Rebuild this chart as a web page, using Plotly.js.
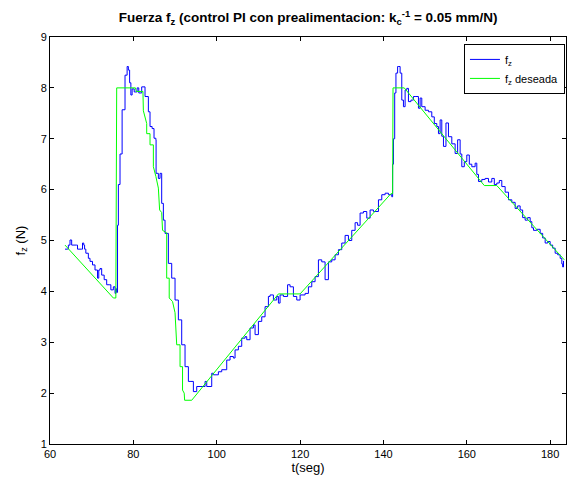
<!DOCTYPE html>
<html>
<head>
<meta charset="utf-8">
<script src="https://cdn.plot.ly/plotly-3.0.1.min.js"></script>
<style>html,body{margin:0;padding:0;background:#fff;}#chart{width:568px;height:480px;}</style>
</head>
<body>
<div id="chart"></div>
<script>
// measured force f_z (N) vs time (s)
var tActual = [63.6,64.2,64.4,64.8,65.2,66.4,66.6,67.6,67.8,68.1,68.3,68.6,69.2,69.6,70.2,70.8,71.4,71.7,72.0,72.4,73.0,73.6,74.2,74.6,75.2,75.6,75.8,76.0,76.2,76.4,76.8,77.3,78.0,78.5,78.8,79.1,79.4,79.7,80.2,80.9,81.3,82.0,82.8,83.6,84.0,84.5,84.96,85.4,85.45,86.0,86.4,86.8,87.2,87.6,88.4,89.2,90.0,90.8,91.6,92.4,93.2,93.6,94.4,95.2,96.0,97.2,97.6,98.8,99.2,100.4,101.2,102.4,103.2,104.0,104.4,105.2,106.0,106.8,107.2,108.0,108.8,109.2,110.0,110.8,111.6,112.4,112.8,113.6,114.4,114.8,115.2,116.0,117.0,117.6,118.4,119.2,120.0,121.2,122.0,122.8,123.6,124.4,125.2,126.0,126.8,127.6,128.4,129.2,130.0,130.8,131.6,132.4,133.2,133.8,134.4,135.2,136.0,136.8,137.6,138.8,139.6,140.4,141.2,142.0,142.2,142.4,142.7,143.0,143.4,143.7,144.0,144.4,144.8,145.2,145.6,146.0,146.6,147.2,147.6,148.4,148.8,149.2,150.0,150.8,151.6,152.2,152.8,153.2,153.6,154.0,154.4,155.0,155.6,156.4,157.2,157.8,158.4,158.8,159.4,160.0,160.6,161.2,162.0,162.4,162.8,163.6,164.4,165.2,166.0,166.6,167.2,167.8,168.4,169.2,170.0,170.8,171.6,172.2,172.8,173.4,174.0,174.6,175.2,175.6,176.0,176.8,177.6,178.2,178.8,179.4,180.0,180.6,181.2,181.8,182.4,182.8,183.0,183.2];
var fActual = [4.83,4.83,4.91,5.01,4.91,4.91,4.83,4.83,4.95,4.91,4.83,4.75,4.65,4.59,4.52,4.42,4.26,4.42,4.45,4.32,4.23,4.13,4.13,4.03,4.09,3.96,4.05,3.98,5.3,6.1,6.7,7.57,8.25,8.42,8.35,8.1,7.86,7.98,7.92,8.0,7.9,8.02,7.83,7.53,7.24,7.2,7.01,6.98,6.32,6.22,6.32,5.73,5.4,5.14,4.55,4.26,3.83,3.44,2.95,2.52,2.23,2.23,2.03,2.13,2.13,2.23,2.13,2.39,2.36,2.42,2.46,2.65,2.72,2.69,2.85,2.92,3.08,3.11,3.05,3.28,3.34,3.15,3.41,3.5,3.70,3.9,3.93,3.83,3.9,3.77,3.93,3.9,4.13,4.09,3.9,3.83,3.93,3.96,4.09,4.19,4.29,4.62,4.58,4.23,4.58,4.62,4.72,4.82,4.95,5.1,5.0,5.2,5.35,5.3,5.54,5.57,5.44,5.6,5.57,5.8,5.9,5.93,5.9,5.86,6.5,7.0,7.9,8.29,8.42,8.42,8.29,7.76,7.63,7.96,7.99,7.73,7.76,7.83,7.83,7.6,7.8,7.63,7.56,7.53,7.43,7.3,7.24,7.1,7.37,7.05,6.85,7.31,7.04,6.9,6.71,6.98,6.7,6.45,6.55,6.68,6.5,6.45,6.52,6.3,6.16,6.2,6.22,6.15,6.22,6.1,6.13,6.18,6.06,5.95,5.8,5.75,5.63,5.68,5.6,5.45,5.4,5.45,5.37,5.25,5.2,5.22,5.14,5.05,4.95,4.98,4.91,4.85,4.75,4.72,4.65,4.54,4.48,4.6];
// desired force
var tDesired = [63.6,75.2,75.8,76.0,80.5,80.7,82.3,82.4,83.2,83.2,84.0,84.0,84.8,84.8,85.4,86.0,86.3,86.8,87.0,88.0,88.0,88.6,88.6,89.4,90.0,90.4,91.2,91.2,91.8,91.8,92.2,92.3,94.0,114.8,120.0,141.8,142.2,142.3,145.0,164.2,167.2,183.4];
var fDesired = [4.91,3.87,3.87,8.0,8.0,7.93,7.93,7.55,7.3,7.1,7.1,6.88,6.88,6.45,6.26,6.03,5.6,5.55,5.2,5.15,4.26,4.26,3.87,3.8,3.58,2.95,2.95,2.52,2.52,2.06,2.0,1.86,1.86,3.95,3.95,5.92,5.92,8.0,8.0,6.08,6.08,4.62];
var xTicks = [60,80,100,120,140,160,180];
var yTicks = [1,2,3,4,5,6,7,8,9];

var font = 'Liberation Sans, Arial, Helvetica, sans-serif';
var traces = [
  {x: tActual, y: fActual, type: 'scatter', mode: 'lines', name: 'f<sub>z</sub>',
   line: {color: '#0000ff', width: 1, shape: 'hv'}},
  {x: tDesired, y: fDesired, type: 'scatter', mode: 'lines', name: 'f<sub>z</sub> deseada',
   line: {color: '#00ff00', width: 1}}
];
var axisCommon = {showgrid: false, zeroline: false, showline: true, linecolor: '#000', linewidth: 1,
  mirror: 'ticks', ticks: 'inside', ticklen: 4, tickcolor: '#000', tickfont: {family: font, size: 11, color: '#000'}};
var layout = {
  width: 568, height: 480,
  margin: {l: 50, r: 2, t: 37, b: 36},
  paper_bgcolor: '#fff', plot_bgcolor: '#fff',
  font: {family: font, color: '#000'},
  title: {text: '<b>Fuerza f<sub>z</sub> (control PI con prealimentacion: k<sub>c</sub><sup>-1</sup> = 0.05 mm/N)</b>',
    font: {family: font, size: 13.5, color: '#000'}, x: 0.5425, xanchor: 'center', y: 0.963, yanchor: 'middle'},
  xaxis: Object.assign({}, axisCommon, {range: [60, 183.8], tickvals: xTicks,
    title: {text: 't(seg)', font: {family: font, size: 13}, standoff: 2}}),
  yaxis: Object.assign({}, axisCommon, {range: [1, 9], tickvals: yTicks,
    title: {text: 'f<sub>z</sub> (N)', font: {family: font, size: 13}, standoff: 12}}),
  legend: {x: 0.998, xanchor: 'right', y: 0.983, yanchor: 'top', bgcolor: '#fff', bordercolor: '#000', borderwidth: 1,
    font: {family: font, size: 11, color: '#000'}, tracegroupgap: 0, itemwidth: 30},
  showlegend: true
};
Plotly.newPlot('chart', traces, layout, {displayModeBar: false, staticPlot: true});
</script>
</body>
</html>
